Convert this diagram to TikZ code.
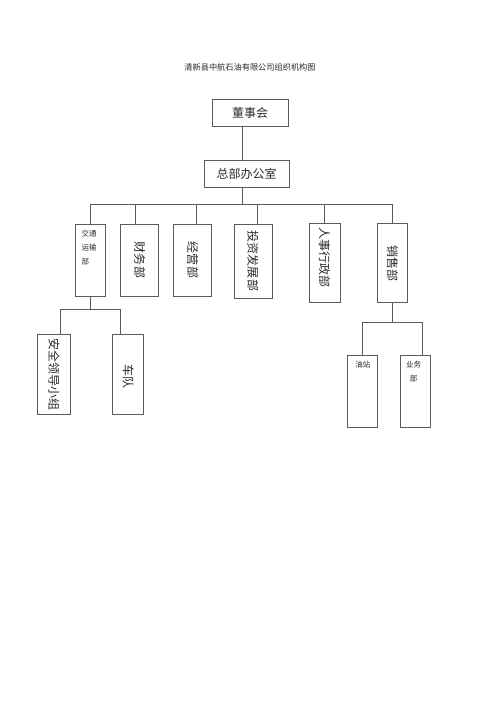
\documentclass[tikz,border=0pt]{standalone}
\usepackage{fontspec}
\newfontfamily\cjk{Noto Sans CJK SC}
\usetikzlibrary{calc}
\definecolor{linegray}{RGB}{90,90,90}
\definecolor{textgray}{RGB}{40,40,40}
\tikzset{
  orgbox/.style={draw=linegray, line width=0.8pt, inner sep=0pt, text=textgray, font=\cjk\fontsize{12}{12}\selectfont},
  vtext/.style={rotate=-90, inner sep=0pt, text=textgray, font=\cjk\fontsize{12}{12}\selectfont},
  smalltext/.style={inner sep=0pt, text=textgray, font=\cjk\fontsize{7.5}{14}\selectfont},
  link/.style={draw=linegray, line width=0.8pt}
}

\begin{document}
\begin{tikzpicture}[x=1pt, y=-1pt]
  \useasboundingbox (0,0) rectangle (500,708);

  % Title
  \node[text=textgray, font=\cjk\fontsize{8.2}{8.2}\selectfont] (title) at (250,67.5) {清新县中航石油有限公司组织机构图};

  % Top levels
  \node[orgbox, minimum width=76pt, minimum height=27pt] (board) at (250,112.5) {董事会};
  \node[orgbox, minimum width=85pt, minimum height=27pt] (office) at (246.5,173.5) {总部办公室};

  % Departments
  \node[orgbox, minimum width=30pt, minimum height=72pt] (transport) at (90.7,260) {};
  \node[orgbox, minimum width=38pt, minimum height=72pt] (finance) at (139.7,260) {};
  \node[orgbox, minimum width=38pt, minimum height=72pt] (operation) at (192.7,260) {};
  \node[orgbox, minimum width=38pt, minimum height=74pt] (invest) at (253,261) {};
  \node[orgbox, minimum width=31pt, minimum height=79pt] (hr) at (324.5,263.3) {};
  \node[orgbox, minimum width=30pt, minimum height=79pt] (sales) at (392.5,263.3) {};

  \node[smalltext, anchor=north west, align=left] (transport-t) at ($(transport.north west)+(6,6)$) {交通\\运输\\部};
  \node[vtext] (finance-t) at (finance.center) {财务部};
  \node[vtext] (operation-t) at (operation.center) {经营部};
  \node[vtext] (invest-t) at (invest.center) {投资发展部};
  \node[vtext] (hr-t) at ($(hr.center)+(0,-5.5)$) {人事行政部};
  \node[vtext] (sales-t) at (sales.center) {销售部};

  % Sub units
  \node[orgbox, minimum width=33pt, minimum height=80pt] (safety) at (54,374) {};
  \node[orgbox, minimum width=31pt, minimum height=80pt] (fleet) at (128.2,374) {};
  \node[orgbox, minimum width=30pt, minimum height=72pt] (station) at (362.8,391) {};
  \node[orgbox, minimum width=30pt, minimum height=72pt] (business) at (415.5,391) {};

  \node[vtext] (safety-t) at (safety.center) {安全领导小组};
  \node[vtext] (fleet-t) at ($(fleet.center)+(0,2)$) {车队};
  \node[smalltext, anchor=north] (station-t) at ($(station.north)+(0,6.5)$) {油站};
  \node[smalltext, anchor=north, align=center] (business-t) at ($(business.north)+(-2,6.5)$) {业务\\部};

  % Connectors
  \coordinate (trunk) at (242,204);
  \coordinate (bus) at (0,204);
  \draw[link] (board.south -| trunk) -- (office.north -| trunk);
  \draw[link] (office.south -| trunk) -- (trunk);
  \draw[link] (transport.north) -- (transport.north |- bus) -- (sales.north |- bus) -- (sales.north);
  \foreach \n/\s in {finance/-4, operation/4, invest/4, hr/0}
    \draw[link] ([xshift=\s pt]\n.north) -- ([xshift=\s pt]\n.north |- bus);

  \coordinate (tbus) at (0,309.3);
  \draw[link] (transport.south) -- (transport.south |- tbus);
  \draw[link] ([xshift=6.7pt]safety.north) -- ([xshift=6.7pt]safety.north |- tbus) -- ([xshift=-7.5pt]fleet.north |- tbus) -- ([xshift=-7.5pt]fleet.north);

  \coordinate (sbus) at (0,322.7);
  \draw[link] (sales.south) -- (sales.south |- sbus);
  \draw[link] (station.north) -- (station.north |- sbus) -- ([xshift=7pt]business.north |- sbus) -- ([xshift=7pt]business.north);
\end{tikzpicture}
\end{document}
